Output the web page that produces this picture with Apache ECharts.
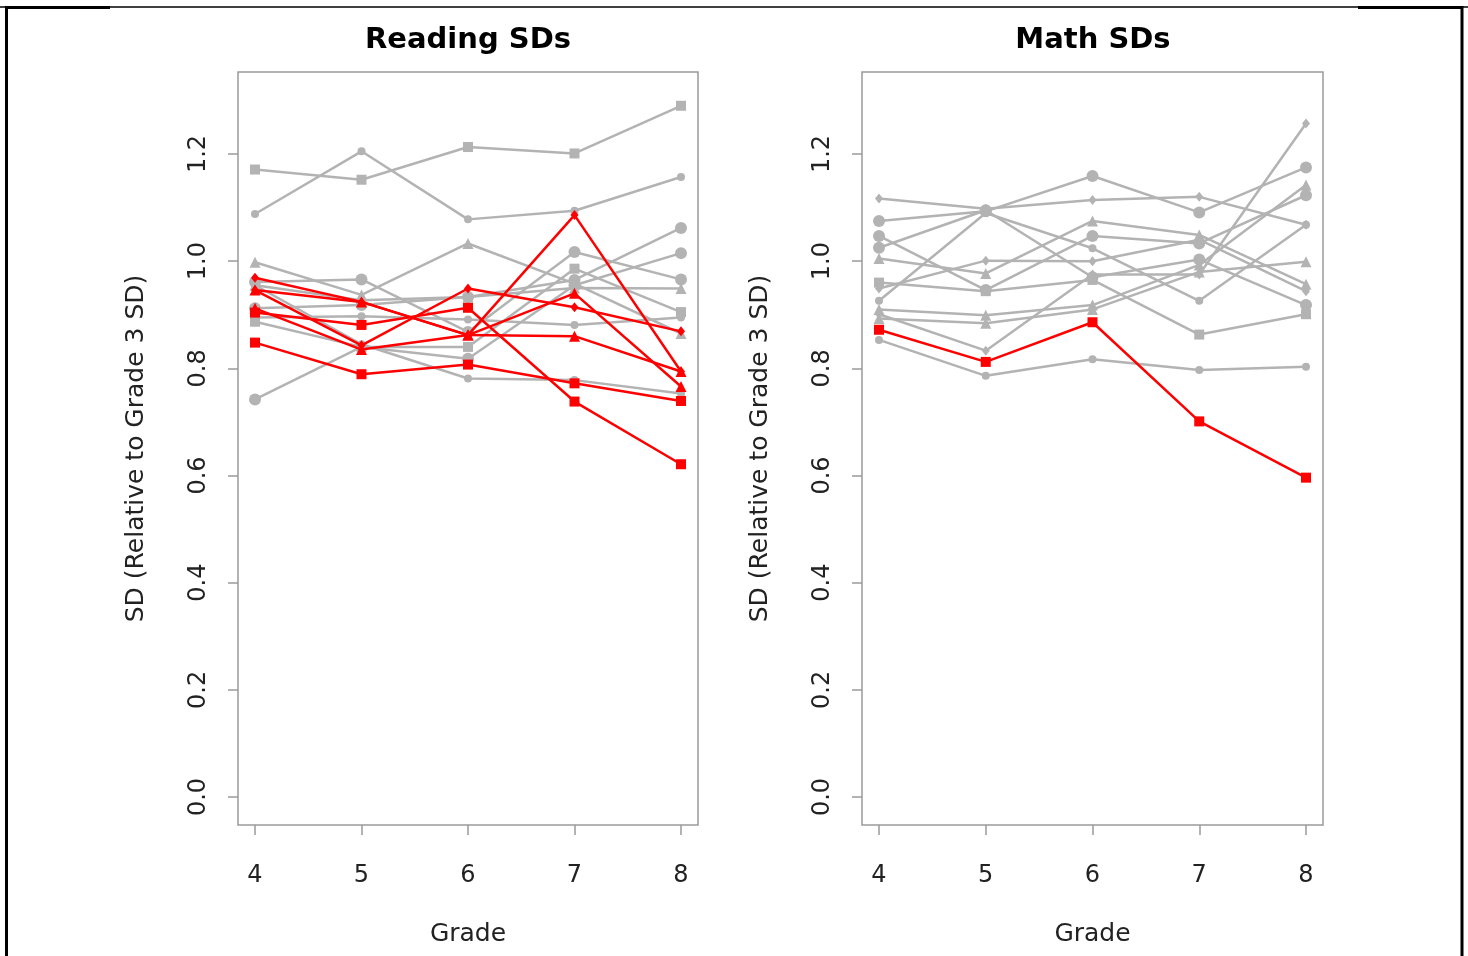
<!DOCTYPE html>
<html>
<head>
<meta charset="utf-8">
<script src="https://cdn.jsdelivr.net/npm/echarts@6/dist/echarts.min.js"></script>
<style>
  html, body { margin: 0; padding: 0; background: #fff; }
  #chart { width: 1468px; height: 956px; }
</style>
</head>
<body>
<div id="chart"></div>
<script>
// grades on the x axis
const grades = [4, 5, 6, 7, 8];

// Reading: highlighted (red) series
const readRed1 = [0.969, 0.924, 0.862, 1.086, 0.794];
const readRed2 = [0.946, 0.924, 0.862, 0.860, 0.794];
const readRed3 = [0.946, 0.843, 0.949, 0.914, 0.869];
const readRed4 = [0.912, 0.835, 0.862, 0.940, 0.766];
const readRed5 = [0.904, 0.881, 0.913, 0.738, 0.621];
const readRed6 = [0.848, 0.789, 0.807, 0.772, 0.739];

// Reading: other (gray) series
const readGray1 = [1.171, 1.152, 1.213, 1.201, 1.290];
const readGray2 = [1.088, 1.205, 1.078, 1.094, 1.157];
const readGray3 = [0.998, 0.937, 1.033, 0.958, 0.865];
const readGray4 = [0.961, 0.966, 0.868, 1.017, 0.966];
const readGray5 = [0.912, 0.918, 0.933, 0.965, 1.062];
const readGray6 = [0.887, 0.840, 0.840, 0.986, 0.905];
const readGray7 = [0.895, 0.897, 0.891, 0.881, 0.895];
const readGray8 = [0.742, 0.840, 0.818, 0.955, 1.015];
const readGray9 = [0.955, 0.927, 0.933, 0.950, 0.949];
const readGray10 = [0.955, 0.845, 0.781, 0.778, 0.753];

// Math: highlighted (red) series
const mathRed1 = [0.872, 0.812, 0.886, 0.701, 0.596];

// Math: other (gray) series
const mathGray1 = [1.117, 1.098, 1.114, 1.120, 1.068];
const mathGray2 = [1.075, 1.093, 1.159, 1.091, 1.175];
const mathGray3 = [1.047, 0.946, 1.047, 1.033, 1.123];
const mathGray4 = [0.960, 0.944, 0.965, 0.863, 0.901];
const mathGray5 = [1.005, 0.977, 1.075, 1.049, 0.957];
const mathGray6 = [1.025, 1.095, 0.970, 1.003, 0.918];
const mathGray7 = [0.949, 1.001, 1.000, 1.040, 0.944];
const mathGray8 = [0.926, 1.090, 1.024, 0.926, 1.068];
const mathGray9 = [0.910, 0.899, 0.918, 0.993, 1.142];
const mathGray10 = [0.901, 0.833, 0.975, 0.975, 1.257];
const mathGray11 = [0.893, 0.884, 0.910, 0.980, 0.999];
const mathGray12 = [0.853, 0.786, 0.817, 0.797, 0.803];

const yTickMin = 0;
const yTickMax = 1.2;

const GRAY = "#b3b3b3";
const RED = "#ff0000";
const AXIS = "#9a9a9a";
const FONT = "DejaVu Sans";

// marker shapes (R pch 15/16/17/18)
const MK = {
  sq: { symbol: "rect", size: 10 },
  ci: { symbol: "circle", size: 8 },
  big: { symbol: "circle", size: 12 },
  tri: { symbol: "triangle", size: 11 },
  dia: { symbol: "diamond", size: [8, 10] },
};

const readSeries = [
  [readGray1, "sq", GRAY], [readGray2, "ci", GRAY], [readGray3, "tri", GRAY],
  [readGray4, "big", GRAY], [readGray5, "big", GRAY], [readGray6, "sq", GRAY],
  [readGray7, "ci", GRAY], [readGray8, "big", GRAY], [readGray9, "tri", GRAY],
  [readGray10, "ci", GRAY],
  [readRed1, "dia", RED], [readRed2, "tri", RED], [readRed3, "dia", RED],
  [readRed4, "tri", RED], [readRed5, "sq", RED], [readRed6, "sq", RED],
];

const mathSeries = [
  [mathGray1, "dia", GRAY], [mathGray2, "big", GRAY], [mathGray3, "big", GRAY],
  [mathGray4, "sq", GRAY], [mathGray5, "tri", GRAY], [mathGray6, "big", GRAY],
  [mathGray7, "dia", GRAY], [mathGray8, "ci", GRAY], [mathGray9, "tri", GRAY],
  [mathGray10, "dia", GRAY], [mathGray11, "tri", GRAY], [mathGray12, "ci", GRAY],
  [mathRed1, "sq", RED],
];

function makeLine(vals, mk, color, axisIdx) {
  return {
    type: "line",
    xAxisIndex: axisIdx,
    yAxisIndex: axisIdx,
    data: grades.map((g, i) => [g, vals[i]]),
    symbol: MK[mk].symbol,
    symbolSize: MK[mk].size,
    showAllSymbol: true,
    lineStyle: { color: color, width: 2.5 },
    itemStyle: { color: color },
    emphasis: { disabled: true },
    z: color === RED ? 3 : 2,
  };
}

// pixel layout of the two panels (plot box and the 4..8 / 0..1.2 span)
const panels = [
  { box: [238, 72, 460, 753], tick: [255, 154, 426, 643] },
  { box: [862, 72, 461, 753], tick: [879, 154, 427, 643] },
];

const hidden = { show: false };
const labelFont = { fontFamily: FONT, fontSize: 24, color: "#222" };
const nameFont = { fontFamily: FONT, fontSize: 25, color: "#222" };

const grid = [];
const xAxis = [];
const yAxis = [];
const dataAxisIdx = [];
panels.forEach((p) => {
  const [bl, bt, bw, bh] = p.box;
  const [tl, tt, tw, th] = p.tick;
  const xPer = tw / (grades[grades.length - 1] - grades[0]);
  const yPer = th / (yTickMax - yTickMin);

  // 1) data grid = full plot box
  let gi = grid.length;
  dataAxisIdx.push(gi);
  grid.push({ left: bl, top: bt, width: bw, height: bh, show: true,
    borderColor: AXIS, borderWidth: 1.5, backgroundColor: "transparent" });
  xAxis.push({
    type: "value", gridIndex: gi,
    min: grades[0] - (tl - bl) / xPer,
    max: grades[grades.length - 1] + (bl + bw - tl - tw) / xPer,
    axisLine: hidden, axisTick: hidden, axisLabel: hidden, splitLine: hidden,
    name: "Grade", nameLocation: "middle", nameGap: 97, nameTextStyle: nameFont,
  });
  yAxis.push({
    type: "value", gridIndex: gi,
    min: yTickMin - (bt + bh - tt - th) / yPer,
    max: yTickMax + (tt - bt) / yPer,
    axisLine: hidden, axisTick: hidden, axisLabel: hidden, splitLine: hidden,
    name: "SD (Relative to Grade 3 SD)", nameLocation: "middle", nameGap: 89,
    nameRotate: 90, nameTextStyle: nameFont,
  });

  // 2) x tick grid: 4..8 span horizontally, box bottom vertically
  gi = grid.length;
  grid.push({ left: tl, top: bt, width: tw, height: bh, show: false });
  xAxis.push({
    type: "value", gridIndex: gi, min: grades[0], max: grades[grades.length - 1],
    interval: 1,
    axisLine: hidden,
    axisTick: { show: true, length: 10, lineStyle: { color: AXIS, width: 1.5 } },
    axisLabel: Object.assign({ margin: 39 }, labelFont),
    splitLine: hidden,
  });
  yAxis.push({ type: "value", gridIndex: gi, show: false });

  // 3) y tick grid: box left horizontally, 0..1.2 span vertically
  gi = grid.length;
  grid.push({ left: bl, top: tt, width: bw, height: th, show: false });
  xAxis.push({ type: "value", gridIndex: gi, show: false });
  yAxis.push({
    type: "value", gridIndex: gi, min: yTickMin, max: yTickMax, interval: 0.2,
    axisLine: hidden,
    axisTick: { show: true, length: 10, lineStyle: { color: AXIS, width: 1.5 } },
    axisLabel: Object.assign({ rotate: 90, margin: 27,
      formatter: (v) => v.toFixed(1) }, labelFont),
    splitLine: hidden,
  });
});

const series = []
  .concat(readSeries.map((s) => makeLine(s[0], s[1], s[2], dataAxisIdx[0])))
  .concat(mathSeries.map((s) => makeLine(s[0], s[1], s[2], dataAxisIdx[1])));

const chart = echarts.init(document.getElementById("chart"), null, { renderer: "canvas" });
chart.setOption({
  animation: false,
  backgroundColor: "#fff",
  title: [
    { text: "Reading SDs", left: 463, top: 21, textAlign: "center",
      textStyle: { fontFamily: FONT, fontWeight: "bold", fontSize: 29, color: "#000" } },
    { text: "Math SDs", left: 1088, top: 21, textAlign: "center",
      textStyle: { fontFamily: FONT, fontWeight: "bold", fontSize: 29, color: "#000" } },
  ],
  grid: grid,
  xAxis: xAxis,
  yAxis: yAxis,
  series: series,
  // page frame lines
  graphic: [
    { type: "line", shape: { x1: 0, y1: 7, x2: 1468, y2: 7 }, style: { stroke: "#000", lineWidth: 1.5 } },
    { type: "line", shape: { x1: 5, y1: 7.5, x2: 110, y2: 7.5 }, style: { stroke: "#000", lineWidth: 3 } },
    { type: "line", shape: { x1: 1358, y1: 7.5, x2: 1463, y2: 7.5 }, style: { stroke: "#000", lineWidth: 3 } },
    { type: "line", shape: { x1: 6.5, y1: 6, x2: 6.5, y2: 956 }, style: { stroke: "#000", lineWidth: 3 } },
    { type: "line", shape: { x1: 1462, y1: 6, x2: 1462, y2: 956 }, style: { stroke: "#000", lineWidth: 3 } },
  ],
});
</script>
</body>
</html>
